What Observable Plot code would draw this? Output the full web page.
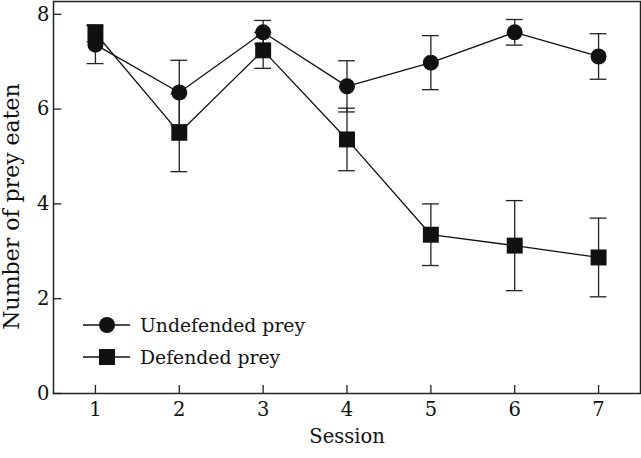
<!DOCTYPE html>
<html>
<head>
<meta charset="utf-8">
<script src="https://cdn.jsdelivr.net/npm/d3@7"></script>
<script src="https://cdn.jsdelivr.net/npm/@observablehq/plot@0.6"></script>
<style>
  body { margin: 0; background: #fff; }
  #wrap { position: relative; width: 641px; height: 458px; font-family: "DejaVu Serif", serif; }
  .leg { position: absolute; left: 83px; height: 24px; display: flex; align-items: center; font-size: 18.8px; color: #111; }
  .leg span { margin-left: 10px; }
</style>
</head>
<body>
<div id="wrap"></div>
<script>
const sessions = [1, 2, 3, 4, 5, 6, 7];
const undefendedMean = [7.36, 6.35, 7.62, 6.48, 6.98, 7.62, 7.11];
const undefendedSE   = [0.40, 0.68, 0.25, 0.54, 0.57, 0.27, 0.48];
const defendedMean   = [7.60, 5.50, 7.24, 5.36, 3.35, 3.12, 2.87];
const defendedSE     = [0.18, 0.82, 0.38, 0.66, 0.65, 0.95, 0.83];
const yTicks = [0, 2, 4, 6, 8];
const seriesNames = ["Undefended prey", "Defended prey"];
const xLabel = "Session";
const yLabel = "Number of prey eaten";

const undef = sessions.map((s, i) => ({x: s, y: undefendedMean[i], lo: undefendedMean[i] - undefendedSE[i], hi: undefendedMean[i] + undefendedSE[i]}));
const def = sessions.map((s, i) => ({x: s, y: defendedMean[i], lo: defendedMean[i] - defendedSE[i], hi: defendedMean[i] + defendedSE[i]}));
const all = undef.concat(def);

const ink = "#111";
const capHalf = 0.1;
const xDomain = [0.5, 7.5];
const yDomain = [0, 8.27];
const tickLenY = 0.17;  // inward x-tick length in y units
const tickLenX = 0.1;   // inward y-tick length in x units

const chart = Plot.plot({
  width: 641, height: 458,
  marginLeft: 53, marginTop: 1, marginRight: 1, marginBottom: 65,
  style: {fontFamily: "'DejaVu Serif', serif", fontSize: "19.5px", color: ink, background: "#fff"},
  x: {domain: xDomain},
  y: {domain: yDomain},
  marks: [
    Plot.frame({stroke: "#222", strokeWidth: 1.5}),
    Plot.axisX({ticks: sessions, tickSize: 0, tickPadding: 9, tickFormat: d => String(d), label: null, fill: ink}),
    Plot.axisY({ticks: yTicks, tickSize: 0, tickPadding: 4, tickFormat: d => String(d), label: null, fill: ink}),
    Plot.text([xLabel], {text: d => d, frameAnchor: "bottom", textAnchor: "middle", lineAnchor: "middle", dy: 43, fontSize: 19.5, fill: ink}),
    Plot.text([yLabel], {text: d => d, frameAnchor: "left", textAnchor: "middle", lineAnchor: "middle", rotate: -90, dx: -42, dy: 9, fontSize: 22, fill: ink}),
    Plot.ruleX(sessions, {x: d => d, y1: yDomain[0], y2: yDomain[0] + tickLenY, stroke: "#222", strokeWidth: 1.3}),
    Plot.ruleY(yTicks, {y: d => d, x1: xDomain[0], x2: xDomain[0] + tickLenX, stroke: "#222", strokeWidth: 1.3}),
    Plot.line(undef, {x: "x", y: "y", stroke: ink, strokeWidth: 1.3}),
    Plot.line(def, {x: "x", y: "y", stroke: ink, strokeWidth: 1.3}),
    Plot.ruleX(all, {x: "x", y1: "lo", y2: "hi", stroke: "#222", strokeWidth: 1.3}),
    Plot.ruleY(all, {y: "hi", x1: d => d.x - capHalf, x2: d => d.x + capHalf, stroke: "#222", strokeWidth: 1.3}),
    Plot.ruleY(all, {y: "lo", x1: d => d.x - capHalf, x2: d => d.x + capHalf, stroke: "#222", strokeWidth: 1.3}),
    Plot.dot(def, {x: "x", y: "y", symbol: "square", r: 9, fill: ink, stroke: "none"}),
    Plot.dot(undef, {x: "x", y: "y", symbol: "circle", r: 8, fill: ink, stroke: "none"})
  ]
});
const wrap = document.getElementById("wrap");
chart.style.position = "absolute";
chart.style.left = "0";
chart.style.top = "0";
wrap.appendChild(chart);

const icons = [
  `<circle cx="24" cy="12" r="8" fill="${ink}"/>`,
  `<rect x="16" y="4" width="16" height="16" fill="${ink}"/>`
];
const legTops = [313, 345];
seriesNames.forEach((name, i) => {
  const row = document.createElement("div");
  row.className = "leg";
  row.style.top = legTops[i] + "px";
  row.innerHTML = `<svg width="47" height="24"><line x1="0" y1="12" x2="47" y2="12" stroke="${ink}" stroke-width="1.3"/>${icons[i]}</svg><span>${name}</span>`;
  wrap.appendChild(row);
});
</script>
</body>
</html>
